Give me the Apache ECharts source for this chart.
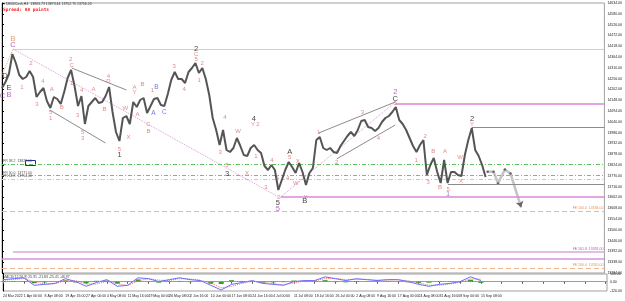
<!DOCTYPE html>
<html>
<head>
<meta charset="utf-8">
<script src="https://cdn.jsdelivr.net/npm/echarts@6/dist/echarts.min.js"></script>
<style>
  html, body { margin: 0; padding: 0; background: #fff; }
  #chart { width: 625px; height: 301px; }
</style>
</head>
<body>
<div id="chart"></div>
<script>
// time labels, one every 6 bars
const timeLabels = ['24 Mar 2022', '1 Apr 00:00', '8 Apr 08:00', '19 Apr 16:00', '27 Apr 00:00', '4 May 08:00',
  '11 May 16:00', '19 May 00:00', '26 May 08:00', '2 Jun 16:00', '10 Jun 00:00', '17 Jun 08:00', '24 Jun 16:00',
  '4 Jul 00:00', '11 Jul 08:00', '18 Jul 16:00', '26 Jul 00:00', '2 Aug 08:00', '9 Aug 16:00', '17 Aug 00:00',
  '24 Aug 08:00', '31 Aug 16:00', '8 Sep 00:00', '15 Sep 08:00']

// closing prices, one per bar slot
const closes = [14209, 14239, 14279, 14379, 14334, 14274, 14254, 14264, 14294, 14264,
  14164, 14189, 14209, 14144, 14109, 14164, 14154, 14129, 14189, 14259,
  14299, 14219, 14119, 14169, 14029, 14119, 14139, 14159, 14134, 14139,
  14169, 14214, 14089, 13989, 13944, 14059, 14069, 14029, 14139, 14114,
  14149, 14159, 14084, 14119, 14154, 14159, 14124, 14119, 14179, 14249,
  14289, 14254, 14254, 14234, 14289, 14309, 14334, 14284, 14309, 14254,
  14174, 14059, 13999, 13924, 13999, 13899, 13889, 13909, 13959, 13919,
  13874, 13869, 13909, 13924, 13899, 13884, 13819, 13799, 13824, 13799,
  13699, 13749, 13799, 13839, 13814, 13784, 13834, 13789, 13724, 13784,
  13809, 13949, 13964, 13909, 13899, 13909, 13889, 13884, 13919, 13944,
  13969, 13989, 13969, 13999, 14044, 14049, 14014, 14009, 13994, 14009,
  14039, 14059, 14069, 14089, 14114, 14049, 14029, 13999, 13959, 13919,
  13889, 13924, 13949, 13774, 13824, 13859, 13789, 13734, 13849, 13734,
  13789, 13789, 13774, 13769, 13874, 13949, 14009, 13899, 13869, 13824, 13764]

const lastPrice = 13756.20

// projected path [slot, price]
const forecast = [[140.6, 13790], [142.3, 13790], [143.6, 13732], [145.6, 13802], [147.2, 13782], [150.3, 13612]]

// oscillator, one value every 3 slots
const oscStep = 3
const oscMain = [27, 39, 51, -46, -34, -22, 39, 2, -59, -10, 27, -59, -46, 51, 39, 2, 27, 51, 27, 15,
  -46, -107, -34, -10, 15, -22, -34, -46, 2, 15, 15, 63, 39, 15, 39, 27, 15, 27, 27, 2,
  -34, -59, -34, -22, 2, 63, 15]
const oscSignal = [20, 30, 42, 0, -30, -25, 10, 15, -30, -30, 5, -25, -50, 10, 40, 20, 15, 40, 35, 20,
  -15, -80, -60, -20, 5, -5, -25, -40, -15, 10, 12, 40, 45, 25, 30, 30, 20, 22, 25, 12,
  -15, -45, -45, -28, -8, 35, 35]
const oscHist = [8, 10, 9, -20, -8, 3, 18, -10, -20, 12, 15, -25, 5, 30, 0, -12, 8, 10, -5, -3,
  -25, -30, 20, 10, 8, -12, -8, -6, 15, 5, 3, 20, -5, -8, 10, -2, -4, 5, 2, -8,
  -15, -12, 8, 6, 10, 25, -15]

// horizontal levels
const levelTop = 14404
const levelFr382 = 13829
const levelFr500 = 13771
const levelFr618 = 13754
const levelFe100 = 13594
const levelFe200 = 13310
const levelPurpleHigh = 14129
const levelPurpleLow = 13665
const levelFe1618 = 13391
const levelPurpleBottom = 13357
const levelGrayHigh = 14014
const levelGrayLow = 13727

// trend lines [slot1, price1, slot2, price2]
const grayLines = [[20.18, 14309, 36.03, 14199], [13.84, 14099, 29.98, 13934],
  [91.67, 13984, 113.86, 14139], [96.86, 13854, 113.86, 14024]]
const pinkDotted = [[3.17, 14404, 80.1, 13664], [80.7, 13664, 113.86, 14139]]
const orangeDotted = [[0, 14274, 3.17, 14404]]

// wave labels [slot, price, text]
const redLabels = [[8.36, 14334, '2'], [5.77, 14214, '1'], [10.09, 14129, '3'], [11.82, 14244, '4'],
  [14.41, 14204, 'A'], [17.3, 14114, 'B'], [14.12, 14089, '5'], [14.12, 14059, '1'], [19.89, 14354, '2'],
  [20.18, 14324, 'C'], [20.18, 14234, '1'], [21.91, 14074, '3'], [23.06, 14199, '4'], [23.35, 13989, '5'],
  [23.35, 13959, '3'], [26.52, 14204, 'A'], [29.69, 14104, 'B'], [30.84, 14269, '4'], [30.84, 14244, 'D'],
  [34.02, 13904, '5'], [35.74, 14109, 'W'], [36.61, 13964, 'X'], [38.34, 14214, 'A'], [38.34, 14189, 'Y'],
  [39.2, 14079, 'A'], [40.65, 14229, 'B'], [42.38, 14029, 'C'], [42.38, 13994, 'B'], [43.53, 14199, '1'],
  [49.87, 14319, '3'], [52.75, 14204, '4'], [56.21, 14379, 'C'], [56.21, 14354, '5'], [57.08, 14249, '1'],
  [57.94, 14334, '2'], [64.57, 14064, '4'], [63.13, 13889, '3'], [68.32, 13994, 'W'], [72.64, 14029, 'Y'],
  [74.08, 14029, '2'], [73.51, 13869, '1'], [65.15, 13824, '5'], [70.91, 13784, 'X'], [78.12, 13849, '4'],
  [83.31, 13864, '5'], [76.39, 13714, '3'], [79.83, 13764, '1'], [82.73, 13759, '4'], [85.04, 13734, 'W'],
  [85.62, 13844, 'X'], [80.14, 13664, '2'], [87.92, 13664, 'Y'], [91.67, 13989, '1'], [96.86, 13839, '2'],
  [104.35, 14089, '3'], [108.97, 13959, '4'], [113.86, 14134, '5'], [119.92, 13849, '1'], [122.51, 13969, '2'],
  [124.82, 13894, 'B'], [128.28, 13894, 'A'], [132.6, 13864, 'W'], [123.38, 13739, '3'], [126.84, 13714, 'B'],
  [129.14, 13704, '5'], [132.89, 13744, 'X'], [136.06, 14029, 'Y']]
const blackLabels = [[56.21, 14404, '2'], [34.02, 13874, '1'], [72.93, 14054, '4'], [65.15, 13779, '3'],
  [83.31, 13889, 'A'], [79.85, 13634, '5'], [87.63, 13644, 'B'], [113.86, 14154, 'C'], [136.06, 14054, '2'],
  [0.86, 14269, 'D'], [2.02, 14209, 'E']]
const blueLabels = [[44.68, 14214, 'B'], [43.82, 14084, 'A'], [46.99, 14089, 'C'], [129.14, 13679, '1']]
const purpleLabels = [[3.17, 14424, 'C'], [2.02, 14174, 'B'], [0.1, 14169, 'C'], [79.85, 13604, '5'],
  [113.86, 14189, '2']]
const orangeLabels = [[3.17, 14454, 'B']]

const slotMax = 174.4
const font = 'Liberation Sans'

const seg = (x1, y1, x2, y2, style, label) => [
  { coord: [x1, y1], lineStyle: style, label: label || { show: false } },
  { coord: [x2, y2] }
]
const dashDot = [4, 2, 1, 2]

const markLines = [
  seg(3.17, levelTop, slotMax, levelTop, { color: '#f2c4a8', width: 1, type: 'solid' }),
  seg(0, levelFr382, slotMax, levelFr382, { color: '#5cc45c', width: 1, type: dashDot },
    { show: true, position: 'insideStartTop', formatter: 'FR 38.2  13829.00', fontSize: 3.5, color: '#555', distance: 1 }),
  seg(0, levelFr500, slotMax, levelFr500, { color: '#f08070', width: 1, type: dashDot },
    { show: true, position: 'insideStartTop', formatter: 'FR 50.0  13771.00', fontSize: 3.5, color: '#555', distance: 1 }),
  seg(0, levelFr618, slotMax, levelFr618, { color: '#f6b898', width: 1, type: dashDot },
    { show: true, position: 'insideStartTop', formatter: 'FR 61.8  13754.00', fontSize: 3.5, color: '#555', distance: 1 }),
  seg(0, levelFe100, slotMax, levelFe100, { color: '#f4b48e', width: 1, type: [5, 3] },
    { show: true, position: 'insideEndTop', formatter: 'FE 100.0  13594.00', fontSize: 3.5, color: '#e8905a', distance: 1 }),
  seg(0, levelFe200, slotMax, levelFe200, { color: '#f4b48e', width: 1, type: [5, 3] },
    { show: true, position: 'insideEndTop', formatter: 'FE 200.0  13310.00', fontSize: 3.5, color: '#e8905a', distance: 1 }),
  seg(113.86, levelPurpleHigh, slotMax, levelPurpleHigh, { color: '#d88ad8', width: 1.5, type: 'solid' }),
  seg(80.7, levelPurpleLow, slotMax, levelPurpleLow, { color: '#d88ad8', width: 1.5, type: 'solid' }),
  seg(3.17, levelFe1618, slotMax, levelFe1618, { color: '#dba6db', width: 1.5, type: 'solid' },
    { show: true, position: 'insideEndTop', formatter: 'FE 161.8  13391.00', fontSize: 3.5, color: '#b060b0', distance: 1 }),
  seg(0, levelPurpleBottom, slotMax, levelPurpleBottom, { color: '#d594d5', width: 1.5, type: 'solid' }),
  seg(136.06, levelGrayHigh, slotMax, levelGrayHigh, { color: '#8c8c8c', width: 1, type: 'solid' }),
  seg(129.1, levelGrayLow, slotMax, levelGrayLow, { color: '#8c8c8c', width: 1, type: 'solid' }),
  ...grayLines.map(l => seg(l[0], l[1], l[2], l[3], { color: '#8c8c8c', width: 1, type: 'solid' })),
  ...pinkDotted.map(l => seg(l[0], l[1], l[2], l[3], { color: '#dc9adc', width: 1, type: 'dotted' })),
  ...orangeDotted.map(l => seg(l[0], l[1], l[2], l[3], { color: '#f0b080', width: 1, type: 'dotted' })),
  [
    { coord: [slotMax, lastPrice], lineStyle: { opacity: 0 },
      label: { show: true, position: 'end', formatter: lastPrice.toFixed(2), backgroundColor: '#000',
        color: '#fff', fontSize: 3.5, padding: [1, 2], distance: 1 } },
    { coord: [slotMax, lastPrice] }
  ]
]

const labelSeries = (arr, color, size, weight) => ({
  type: 'scatter',
  xAxisIndex: 0,
  yAxisIndex: 0,
  symbolSize: 1,
  silent: true,
  z: 10,
  itemStyle: { color: 'rgba(0,0,0,0)' },
  data: arr.map(a => ({ value: [a[0], a[1]], name: a[2] })),
  label: { show: true, position: 'inside', formatter: '{b}', color, fontSize: size, fontWeight: weight, fontFamily: font }
})

const chart = echarts.init(document.getElementById('chart'), null, { renderer: 'canvas' })

const xLabel = v => (v % 6 === 0 && timeLabels[v / 6] !== undefined) ? timeLabels[v / 6] : ''

const option = {
  animation: false,
  backgroundColor: '#fff',
  grid: [
    { left: 2, right: 18, top: 3, height: 270, show: true, borderColor: '#a0a0a0', borderWidth: 1 },
    { left: 2, right: 18, top: 274, height: 17, show: true, borderColor: '#a0a0a0', borderWidth: 1 }
  ],
  xAxis: [
    {
      type: 'value', gridIndex: 0, min: 0, max: slotMax, interval: 6,
      axisLine: { show: false }, axisTick: { show: false }, axisLabel: { show: false }, splitLine: { show: false }
    },
    {
      type: 'value', gridIndex: 1, min: 0, max: slotMax, interval: 6,
      axisLine: { show: true, lineStyle: { color: '#a0a0a0' } },
      axisTick: { show: true, length: 2, lineStyle: { color: '#555' } },
      axisLabel: { show: true, formatter: xLabel, align: 'left', fontSize: 3.5, color: '#222', margin: 3,
        fontFamily: font, showMaxLabel: false },
      splitLine: { show: false }
    }
  ],
  yAxis: [
    {
      type: 'value', gridIndex: 0, position: 'right', min: 13284, max: 14634, interval: 54,
      axisLine: { show: true, lineStyle: { color: '#000' } },
      axisTick: { show: true, length: 2, lineStyle: { color: '#000' } },
      axisLabel: { show: true, formatter: v => v.toFixed(2), fontSize: 3.5, color: '#222', margin: 3, fontFamily: font },
      splitLine: { show: false }
    },
    {
      type: 'value', gridIndex: 1, position: 'right', min: -120, max: 100,
      axisLine: { show: true, lineStyle: { color: '#000' } },
      axisTick: { show: false },
      axisLabel: { show: true, customValues: [100, 0, -120], formatter: v => v.toFixed(2), fontSize: 3.5,
        color: '#222', margin: 3, fontFamily: font },
      splitLine: { show: false }
    }
  ],
  graphic: [
    { type: 'text', left: 3, top: 2, style: { text: '\u25BE DE40Cash,H4  13803.73 13873.44 13752.75 13756.20',
      fontSize: 3.5, fill: '#333', fontFamily: font } },
    { type: 'text', left: 3, top: 7, style: { text: 'Spread: 88 points', fontSize: 4.5, fontWeight: 'bold',
      fill: '#ff2020', fontFamily: 'DejaVu Sans Mono' } },
    { type: 'rect', left: 25, top: 160, shape: { width: 10, height: 5 },
      style: { fill: '#fff', stroke: '#2a2aa0', lineWidth: 1 } },
    { type: 'text', left: 3, top: 275, style: { text: 'MACD(12,26,9) 25.91 -21.83 -25.41 -46.97',
      fontSize: 3.5, fill: '#444', fontFamily: font } }
  ],
  series: [
    {
      type: 'line',
      xAxisIndex: 0,
      yAxisIndex: 0,
      data: closes.map((c, i) => [i, c]),
      showSymbol: false,
      lineStyle: { color: '#555', width: 2 },
      z: 5,
      markLine: { silent: true, symbol: ['none', 'none'], animation: false, data: markLines }
    },
    {
      type: 'line',
      xAxisIndex: 0,
      yAxisIndex: 0,
      data: forecast.map((p, i) => i === forecast.length - 1
        ? { value: p, symbol: 'arrow', symbolSize: 6, symbolRotate: 196 }
        : { value: p }),
      symbol: 'circle',
      symbolSize: 2.5,
      itemStyle: { color: '#666' },
      lineStyle: { color: '#c4c4c4', width: 2.5 },
      z: 4
    },
    labelSeries(redLabels, '#e06a6a', 6, 'normal'),
    labelSeries(blackLabels, '#111', 7.5, 'normal'),
    labelSeries(blueLabels, '#4a5ad8', 6.5, 'normal'),
    labelSeries(purpleLabels, '#a040b0', 7.5, 'normal'),
    labelSeries(orangeLabels, '#e08a50', 8, 'normal'),
    {
      type: 'bar',
      xAxisIndex: 1,
      yAxisIndex: 1,
      data: oscHist.map((v, i) => [i * oscStep, v]),
      barWidth: 5,
      itemStyle: { color: '#2f9a2f' },
      markLine: { silent: true, symbol: ['none', 'none'],
        data: [[{ coord: [0, 0], lineStyle: { color: '#999', type: 'dotted', width: 1 }, label: { show: false } },
          { coord: [slotMax, 0] }]] }
    },
    {
      type: 'line',
      xAxisIndex: 1,
      yAxisIndex: 1,
      data: oscSignal.map((v, i) => [i * oscStep, v]),
      showSymbol: false,
      lineStyle: { color: '#f07070', width: 1, type: 'dotted' }
    },
    {
      type: 'line',
      xAxisIndex: 1,
      yAxisIndex: 1,
      data: oscMain.map((v, i) => [i * oscStep, v]),
      showSymbol: false,
      lineStyle: { color: '#6b6bff', width: 1 }
    }
  ]
}

chart.setOption(option)
</script>
</body>
</html>
